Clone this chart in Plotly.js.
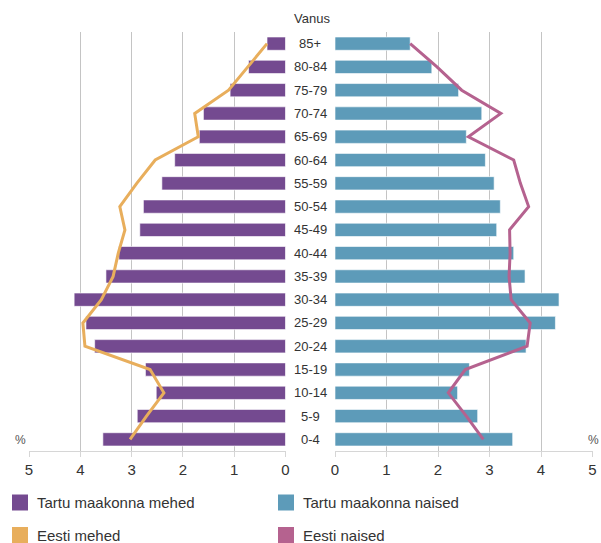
<!DOCTYPE html>
<html>
<head>
<meta charset="utf-8">
<script src="https://cdn.plot.ly/plotly-3.0.1.min.js"></script>
<style>html,body{margin:0;padding:0;background:#fff;}#chart{width:601px;height:543px;}</style>
</head>
<body>
<div id="chart"></div>
<script>
// Age groups (top to bottom)
var ageGroups = ["85+","80-84","75-79","70-74","65-69","60-64","55-59","50-54","45-49","40-44","35-39","30-34","25-29","20-24","15-19","10-14","5-9","0-4"];
// Tartu maakonna mehed (%)
var tartuMehed = [0.36,0.72,1.08,1.60,1.68,2.16,2.41,2.77,2.84,3.25,3.50,4.12,3.89,3.72,2.73,2.52,2.89,3.56];
// Tartu maakonna naised (%)
var tartuNaised = [1.46,1.88,2.40,2.85,2.55,2.92,3.09,3.21,3.14,3.47,3.69,4.35,4.28,3.71,2.61,2.38,2.77,3.45];
// Eesti mehed (%)
var eestiMehed = [0.36,0.73,1.11,1.77,1.70,2.54,2.90,3.23,3.13,3.26,3.36,3.59,3.95,3.91,2.64,2.37,2.71,3.03];
// Eesti naised (%)
var eestiNaised = [1.46,1.98,2.46,3.22,2.59,3.47,3.60,3.76,3.39,3.40,3.38,3.42,3.79,3.73,2.53,2.20,2.55,2.88];
var seriesNames = ["Tartu maakonna mehed","Tartu maakonna naised","Eesti mehed","Eesti naised"];
var seriesColors = ["#744a90","#5d9bb9","#e8ae5c","#b5628f"];
var tickVals = [0,1,2,3,4,5];

var W = 601, H = 543;
var px = function(x){ return x / W; };
var py = function(y){ return 1 - y / H; };

var traces = [
  {type:'bar', orientation:'h', x:tartuMehed, y:ageGroups, xaxis:'x', yaxis:'y',
   name:seriesNames[0], marker:{color:seriesColors[0], line:{color:'rgba(255,255,255,0.6)', width:1}},
   showlegend:false, hoverinfo:'x+y'},
  {type:'bar', orientation:'h', x:tartuNaised, y:ageGroups, xaxis:'x2', yaxis:'y2',
   name:seriesNames[1], marker:{color:seriesColors[1], line:{color:'rgba(255,255,255,0.6)', width:1}},
   showlegend:false, hoverinfo:'x+y'},
  {type:'scatter', mode:'lines', x:eestiMehed, y:ageGroups, xaxis:'x', yaxis:'y',
   name:seriesNames[2], line:{color:seriesColors[2], width:3}, showlegend:false},
  {type:'scatter', mode:'lines', x:eestiNaised, y:ageGroups, xaxis:'x2', yaxis:'y2',
   name:seriesNames[3], line:{color:seriesColors[3], width:3}, showlegend:false}
];

var axisCommon = {
  tickvals: tickVals, showgrid:true, gridcolor:'#c4c4c4', gridwidth:1, zeroline:false,
  showline:true, linecolor:'#d6d6d6', ticks:'outside', ticklen:5, tickcolor:'#d6d6d6',
  tickfont:{size:15, color:'#333', family:'Liberation Sans, Arial, sans-serif'}, fixedrange:true, automargin:false
};
var yCommon = {type:'category', categoryorder:'array', categoryarray:ageGroups,
  range:[ageGroups.length - 0.5, -0.5], autorange:false, showticklabels:false, showgrid:false,
  zeroline:false, showline:false, ticks:'', domain:[py(451), py(32)], fixedrange:true, automargin:false};

var annotations = ageGroups.map(function(g){
  return {text:g, xref:'paper', yref:'y', x:px(310), y:g, showarrow:false,
    xanchor:'center', yanchor:'middle', font:{size:13, color:'#333'}};
});
annotations.push({text:'Vanus', xref:'paper', yref:'paper', x:px(312), y:py(18), showarrow:false,
  xanchor:'center', yanchor:'middle', font:{size:13, color:'#333'}});
annotations.push({text:'%', xref:'paper', yref:'paper', x:px(20), y:py(440), showarrow:false,
  xanchor:'center', yanchor:'middle', font:{size:12, color:'#555'}});
annotations.push({text:'%', xref:'paper', yref:'paper', x:px(601), y:py(440), showarrow:false,
  xanchor:'right', yanchor:'middle', font:{size:12, color:'#555'}});

// Legend (2 x 2 grid of square swatches with labels)
var legendCols = [12, 278];
var legendRows = [502.5, 535];
var shapes = [];
seriesNames.forEach(function(n, i){
  var cx = legendCols[i % 2], cy = legendRows[Math.floor(i / 2)];
  shapes.push({type:'rect', xref:'paper', yref:'paper', x0:px(cx), x1:px(cx + 16),
    y0:py(cy + 8), y1:py(cy - 8), fillcolor:seriesColors[i], line:{width:0}});
  annotations.push({text:n, xref:'paper', yref:'paper', x:px(cx + 23), y:py(cy), showarrow:false,
    xanchor:'left', yanchor:'middle', font:{size:15, color:'#333', family:'Liberation Sans, Arial, sans-serif'}});
});

var layout = {
  width:W, height:H, margin:{l:0,r:0,t:0,b:0}, paper_bgcolor:'#fff', plot_bgcolor:'#fff',
  font:{family:'Liberation Sans, Arial, sans-serif', color:'#333'},
  bargap:0.43,
  xaxis: Object.assign({}, axisCommon, {domain:[px(29), px(285.5)], range:[5,0], anchor:'y'}),
  yaxis: Object.assign({}, yCommon, {anchor:'x'}),
  xaxis2: Object.assign({}, axisCommon, {domain:[px(335), px(592.5)], range:[0,5], anchor:'y2'}),
  yaxis2: Object.assign({}, yCommon, {anchor:'x2'}),
  annotations: annotations,
  shapes: shapes,
  showlegend:false
};

Plotly.newPlot('chart', traces, layout, {displayModeBar:false, staticPlot:true});
</script>
</body>
</html>
